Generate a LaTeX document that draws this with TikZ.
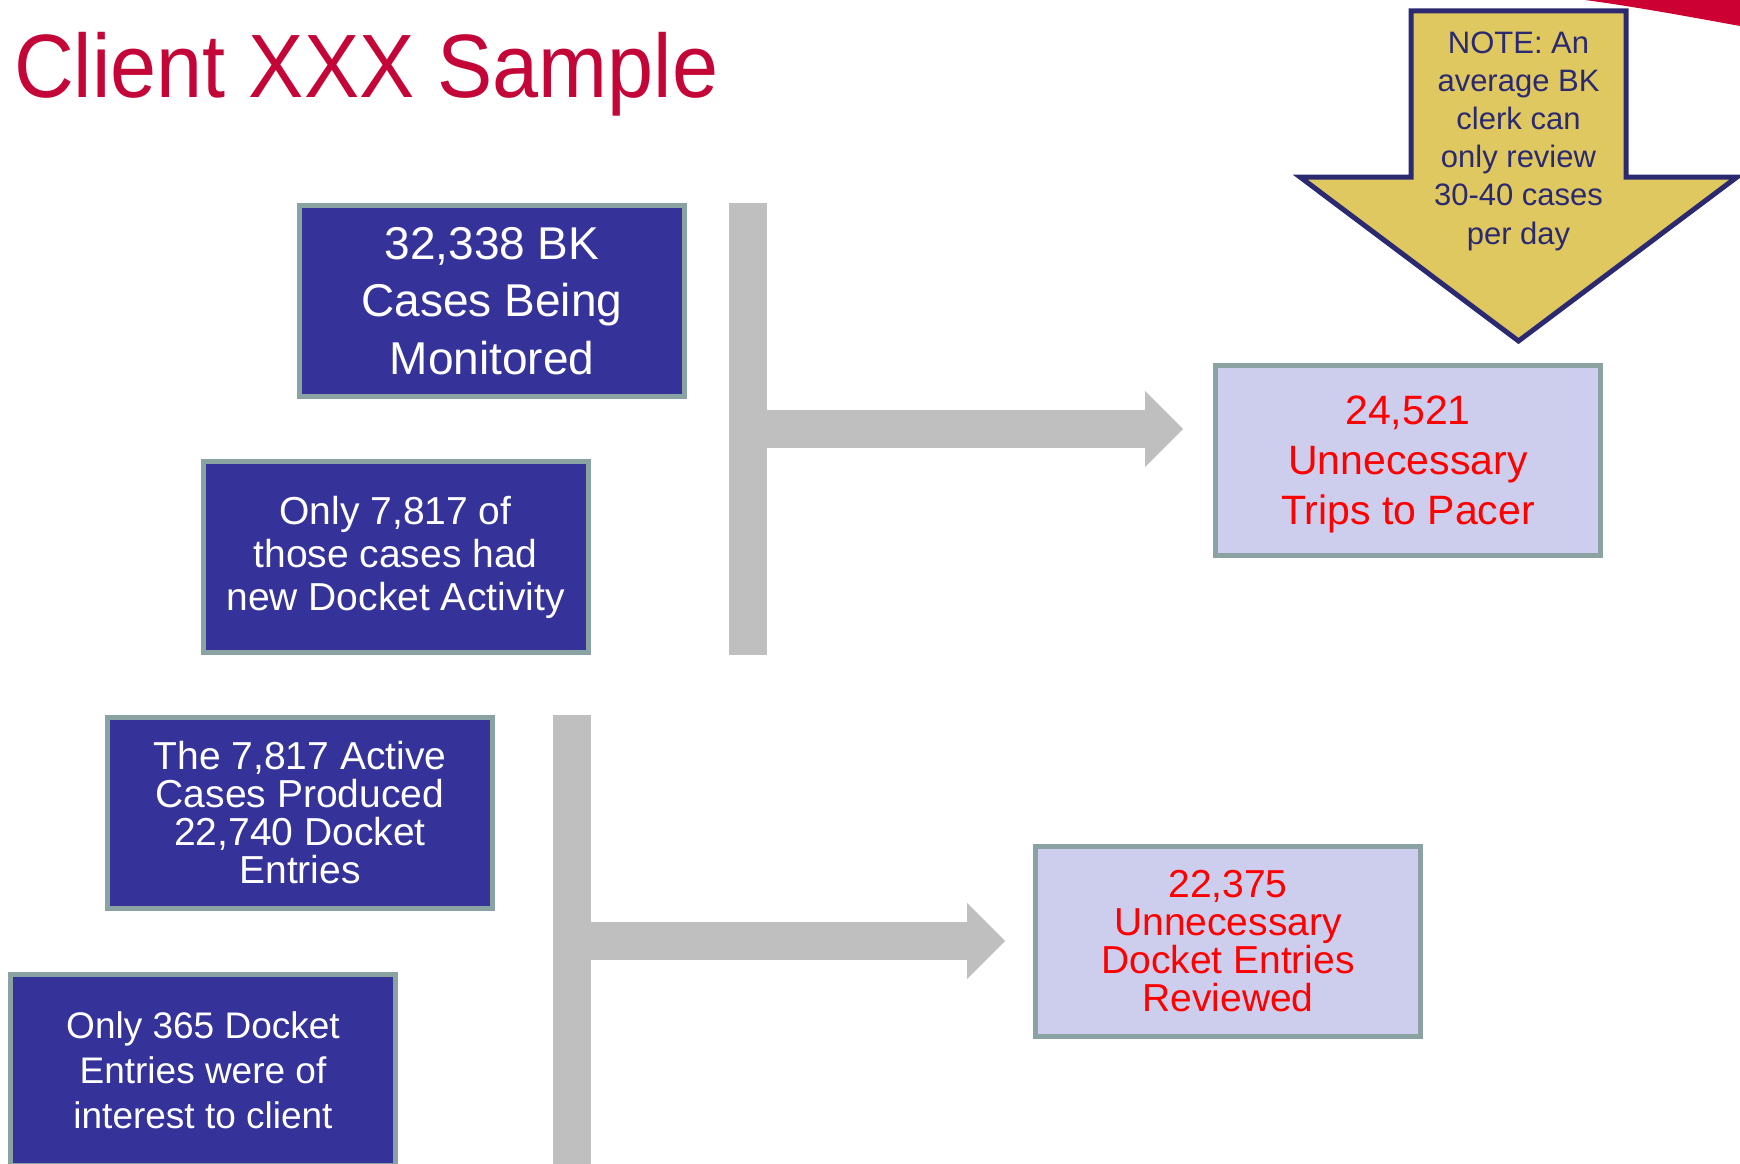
\documentclass[tikz,border=0pt]{standalone}
\usepackage{fontspec}
\setmainfont{Liberation Sans}
\newfontfamily\titlefont{Liberation Sans}[FakeStretch=0.92]
\usetikzlibrary{arrows.meta}

\definecolor{titlered}{RGB}{195,6,55}
\definecolor{cornerred}{RGB}{204,0,51}
\definecolor{boxnavy}{RGB}{53,51,153}
\definecolor{boxedge}{RGB}{138,162,162}
\definecolor{lav}{RGB}{205,205,237}
\definecolor{flowgray}{RGB}{191,191,191}
\definecolor{notegold}{RGB}{223,200,95}
\definecolor{notenavy}{RGB}{43,42,112}

\begin{document}
\begin{tikzpicture}[x=1pt,y=-1pt,
  factbox/.style={draw=boxedge, line width=5pt, fill=boxnavy, text=white,
    align=center, inner sep=0pt, minimum width=385pt, minimum height=191pt},
  resultbox/.style={draw=boxedge, line width=5pt, fill=lav, text=red,
    align=center, inner sep=0pt, minimum width=385pt, minimum height=190pt},
  flowbar/.style={fill=flowgray, inner sep=0pt, minimum width=38pt, minimum height=452pt},
  flow/.style={draw=flowgray, line width=38pt,
    -{Triangle[length=38pt,width=76pt,line width=0pt]}},
]
\useasboundingbox (0,0) rectangle (1740,1164);

% corner accent
\fill[cornerred] (1585,0) -- (1740,0) -- (1740,26)
  .. controls (1680,15) and (1630,6) .. (1585,0) -- cycle;

% title
\node[anchor=base west, inner sep=0pt, text=titlered,
  font=\titlefont\fontsize{90pt}{90pt}\selectfont] (title) at (14,97) {Client XXX Sample};

% note arrow
\draw[fill=notegold, draw=notenavy, line width=5pt, line join=miter]
  (1411,11) -- (1626,11) -- (1626,177) -- (1737,177) -- (1518.5,341)
  -- (1300,177) -- (1411,177) -- cycle;
\node[text=notenavy, align=center, inner sep=0pt,
  font=\fontsize{31pt}{38.2pt}\selectfont] (note) at (1518.5,141)
  {NOTE: An\\average BK\\clerk can\\only review\\30-40 cases\\per day};

% first group
\node[factbox, font=\fontsize{46pt}{57.5pt}\selectfont] (b1) at (492,301)
  {32,338 BK\\Cases Being\\Monitored};
\node[factbox, font=\fontsize{39pt}{43pt}\selectfont] (b2) at (395.5,557)
  {Only 7,817 of\\those cases had\\new Docket Activity};
\node[flowbar] (bar1) at (748,429) {};
\node[resultbox, text depth=0pt, font=\fontsize{41pt}{50pt}\selectfont] (r1) at (1408,460)
  {24,521\\Unnecessary\\Trips to Pacer};
\draw[flow, shorten >=30pt] (bar1.east) -- (bar1.east -| r1.west);

% second group
\node[factbox, font=\fontsize{39pt}{38pt}\selectfont] (b3) at (300,813)
  {The 7,817 Active\\Cases Produced\\22,740 Docket\\Entries};
\node[factbox, font=\fontsize{37pt}{45pt}\selectfont] (b4) at (203,1070)
  {Only 365 Docket\\Entries were of\\interest to client};
\node[flowbar] (bar2) at (571.5,941) {};
\node[resultbox, font=\fontsize{39pt}{38pt}\selectfont] (r2) at (1228,941)
  {22,375\\Unnecessary\\Docket Entries\\Reviewed};
\draw[flow, shorten >=28pt] (bar2.east) -- (r2.west);
\end{tikzpicture}
\end{document}
